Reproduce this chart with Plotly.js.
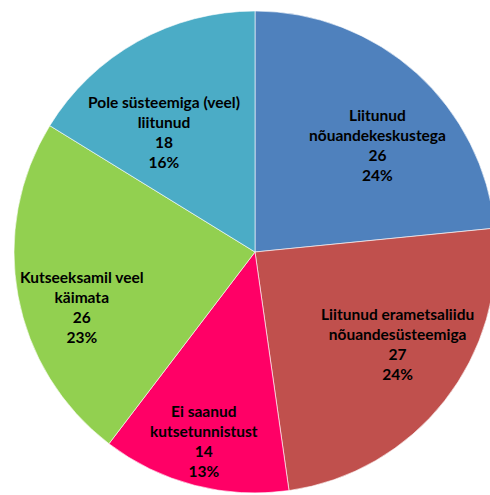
<!DOCTYPE html>
<html>
<head>
<meta charset="utf-8">
<script src="https://cdn.plot.ly/plotly-3.0.1.min.js"></script>
<style>
  html, body { margin: 0; padding: 0; overflow: hidden; background: #fff; }
  #chart { width: 510px; height: 495px; }
</style>
</head>
<body>
<div id="chart"></div>
<script>
// Categories (clockwise from 12 o'clock), counts and stated shares
const categories = [
  'Liitunud<br>nõuandekeskustega',
  'Liitunud erametsaliidu<br>nõuandesüsteemiga',
  'Ei saanud<br>kutsetunnistust',
  'Kutseeksamil veel<br>käimata',
  'Pole süsteemiga (veel)<br>liitunud'
];
const counts = [26, 27, 14, 26, 18];
const shares = ['24%', '24%', '13%', '23%', '16%'];
const colors = ['#4F81BD', '#C0504D', '#FF0066', '#92D050', '#4BACC6'];

// Pie geometry (px) and per-slice label placement: [angle nudge in deg, radius fraction]
const W = 510, H = 495;
const cx = 255, cy = 252, r = 241;
const labelPlacement = [[6.8, 0.676], [-5.2, 0.702], [0.5, 0.812], [-7.1, 0.753], [-8.0, 0.625]];

const total = counts.reduce((a, b) => a + b, 0);
let cum = 0;
const annotations = counts.map((v, i) => {
  const mid = (cum + v / 2) / total * 360;
  cum += v;
  const ang = (mid + labelPlacement[i][0]) * Math.PI / 180;
  const rr = labelPlacement[i][1] * r;
  const px = cx + rr * Math.sin(ang);
  const py = cy - rr * Math.cos(ang);
  return {
    xref: 'paper', yref: 'paper',
    x: px / W, y: 1 - py / H,
    xanchor: 'center', yanchor: 'middle',
    showarrow: false,
    align: 'center',
    text: '<b>' + categories[i] + '<br>' + v + '<br>' + shares[i] + '</b>',
    font: { family: 'Lato, "Open Sans", sans-serif', size: 15.5, color: '#000' }
  };
});

const trace = {
  type: 'pie',
  labels: categories,
  values: counts,
  sort: false,
  direction: 'clockwise',
  rotation: 0,
  marker: { colors: colors, line: { color: 'rgba(255,255,255,0.6)', width: 1 } },
  textinfo: 'none',
  hoverinfo: 'none',
  domain: {
    x: [(cx - r) / W, (cx + r) / W],
    y: [(H - cy - r) / H, (H - cy + r) / H]
  }
};

const layout = {
  width: W,
  height: H,
  margin: { l: 0, r: 0, t: 0, b: 0 },
  showlegend: false,
  paper_bgcolor: '#fff',
  annotations: annotations
};

Plotly.newPlot('chart', [trace], layout, { displayModeBar: false, staticPlot: true });
</script>
</body>
</html>
